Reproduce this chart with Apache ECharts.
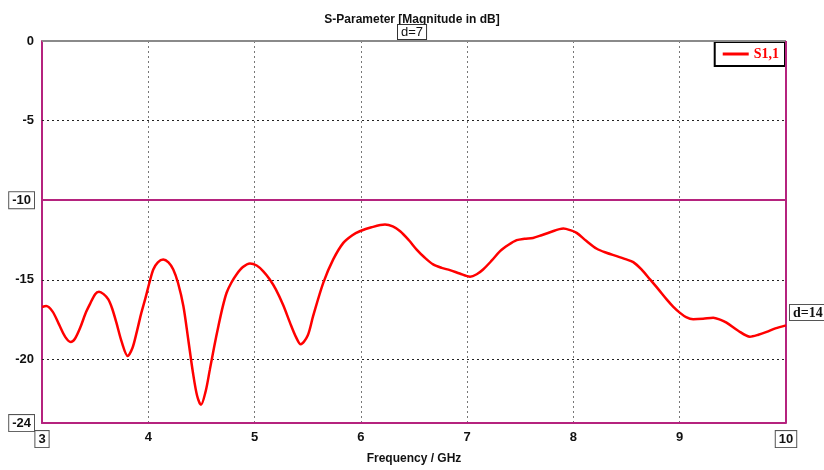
<!DOCTYPE html>
<html>
<head>
<meta charset="utf-8">
<script src="https://cdn.jsdelivr.net/npm/echarts@6/dist/echarts.min.js"></script>
<style>html,body{margin:0;padding:0;background:#fff}#c{width:824px;height:470px}</style>
</head>
<body>
<div id="c"></div>
<script>
const titleText = 'S-Parameter [Magnitude in dB]';
const xAxisName = 'Frequency / GHz';
const seriesName = 'S1,1';
const freq = [3.0, 3.04, 3.1, 3.16, 3.22, 3.27, 3.31, 3.36, 3.41, 3.45, 3.5, 3.536, 3.58, 3.624, 3.66, 3.7, 3.75, 3.806, 3.85, 3.89, 3.93, 3.97, 4.01, 4.047, 4.09, 4.14, 4.19, 4.235, 4.28, 4.33, 4.375, 4.42, 4.46, 4.496, 4.54, 4.58, 4.62, 4.66, 4.7, 4.737, 4.78, 4.83, 4.89, 4.957, 5.02, 5.08, 5.14, 5.2, 5.27, 5.333, 5.39, 5.434, 5.5, 5.55, 5.647, 5.74, 5.835, 5.92, 5.99, 6.1, 6.227, 6.3, 6.37, 6.45, 6.525, 6.6, 6.68, 6.76, 6.838, 6.93, 7.027, 7.09, 7.15, 7.23, 7.31, 7.39, 7.466, 7.54, 7.62, 7.7, 7.78, 7.905, 7.97, 8.03, 8.12, 8.22, 8.31, 8.407, 8.49, 8.563, 8.64, 8.72, 8.8, 8.877, 8.94, 9.0, 9.06, 9.127, 9.22, 9.315, 9.38, 9.44, 9.55, 9.66, 9.74, 9.818, 9.9, 10.0];
const s11 = [-16.71, -16.65, -17.0, -17.8, -18.6, -18.9, -18.7, -18.0, -17.1, -16.54, -15.9, -15.75, -15.9, -16.23, -16.8, -17.69, -18.9, -19.78, -19.3, -18.32, -17.2, -16.23, -15.2, -14.35, -13.9, -13.72, -13.9, -14.35, -15.2, -16.65, -18.7, -20.82, -22.3, -22.85, -22.0, -20.61, -19.2, -17.9, -16.7, -15.81, -15.2, -14.66, -14.2, -13.97, -14.1, -14.45, -14.95, -15.6, -16.6, -17.69, -18.6, -19.05, -18.5, -17.3, -15.18, -13.72, -12.68, -12.2, -11.95, -11.7, -11.53, -11.65, -11.95, -12.5, -13.1, -13.6, -14.03, -14.25, -14.39, -14.6, -14.8, -14.65, -14.35, -13.8, -13.2, -12.8, -12.51, -12.42, -12.37, -12.2, -12.01, -11.78, -11.88, -12.05, -12.55, -13.05, -13.3, -13.51, -13.7, -13.89, -14.35, -14.97, -15.6, -16.23, -16.7, -17.06, -17.35, -17.48, -17.45, -17.38, -17.5, -17.69, -18.2, -18.57, -18.45, -18.27, -18.05, -17.86];
const yGridValues = [-5, -15, -20];
const yLabelValues = [0, -5, -10, -15, -20, -24];
const yBoxedValues = [-10, -24];
const xBoxedValues = [3, 10];
const markerY = -10;
const markerLabelTop = 'd=7';
const markerLabelRight = 'd=14';

const MAG = '#b5237e';
const chart = echarts.init(document.getElementById('c'));
chart.setOption({
  animation: false,
  backgroundColor: '#fff',
  title: {
    text: titleText, left: 'center', top: 9,
    textStyle: {fontFamily: 'Liberation Sans', fontSize: 12, fontWeight: 'bold', color: '#111'}
  },
  legend: {
    right: 39, top: 42, orient: 'vertical',
    backgroundColor: '#fff', borderColor: '#000', borderWidth: 2, padding: [5, 6, 5, 8],
    itemWidth: 26, itemHeight: 3, itemGap: 0,
    icon: 'rect',
    textStyle: {fontFamily: 'Liberation Serif', fontWeight: 'bold', fontSize: 14, color: '#ff0000'},
    data: [{name: seriesName}]
  },
  grid: {left: 42, right: 38, top: 41, bottom: 46, show: false},
  xAxis: {
    type: 'value', min: 3, max: 10, interval: 1,
    name: xAxisName, nameLocation: 'middle', nameGap: 29,
    nameTextStyle: {fontFamily: 'Liberation Sans', fontWeight: 'bold', fontSize: 12, color: '#111'},
    axisLine: {show: true, onZero: false, lineStyle: {color: MAG, width: 2}},
    axisTick: {show: false},
    axisLabel: {
      margin: 8,
      fontFamily: 'Liberation Sans', fontWeight: 'bold', fontSize: 13, color: '#111',
      formatter: v => xBoxedValues.includes(v) ? '{b|' + v + '}' : String(v),
      rich: {b: {fontFamily: 'Liberation Sans', fontWeight: 'bold', fontSize: 13, color: '#111',
        borderColor: '#555', borderWidth: 1, padding: [2, 3, 1, 3], backgroundColor: '#fff'}}
    },
    splitLine: {show: true, lineStyle: {color: '#777', type: [2, 3], width: 1}}
  },
  yAxis: {
    type: 'value', min: -24, max: 0, interval: 1,
    axisLine: {show: true, onZero: false, lineStyle: {color: MAG, width: 2}},
    axisTick: {show: false},
    splitLine: {show: false},
    axisLabel: {
      margin: 8,
      fontFamily: 'Liberation Sans', fontWeight: 'bold', fontSize: 13, color: '#111',
      formatter: v => yBoxedValues.includes(v) ? '{b|' + v + '}' : (yLabelValues.includes(v) ? String(v) : ''),
      rich: {b: {fontFamily: 'Liberation Sans', fontWeight: 'bold', fontSize: 13, color: '#111',
        borderColor: '#555', borderWidth: 1, padding: [2, 3, 1, 3], backgroundColor: '#fff'}}
    }
  },
  series: [{
    name: seriesName, type: 'line', smooth: 0.3, symbol: 'none',
    lineStyle: {color: '#ff0000', width: 2.5},
    itemStyle: {color: '#ff0000'},
    data: freq.map((f, i) => [f, s11[i]]),
    z: 5,
    markLine: {
      silent: true, symbol: 'none', label: {show: false},
      data: [
        ...yGridValues.map(v => ({yAxis: v, lineStyle: {color: '#222', type: [2, 3], width: 1}})),
        {yAxis: markerY, lineStyle: {color: MAG, type: 'solid', width: 2}},
        {yAxis: 0, lineStyle: {color: '#8a8a8a', type: 'solid', width: 2}},
        {xAxis: 10, lineStyle: {color: MAG, type: 'solid', width: 2}}
      ]
    }
  }],
  graphic: [
    {type: 'text', left: 397, top: 24, z: 10,
      style: {text: markerLabelTop, fontFamily: 'Liberation Sans', fontSize: 13, fill: '#111',
        backgroundColor: '#fff', borderColor: '#333', borderWidth: 1, padding: [1, 3, 0, 3]}},
    {type: 'text', left: 789, top: 304, z: 10,
      style: {text: markerLabelRight, fontFamily: 'Liberation Serif', fontWeight: 'bold', fontSize: 14, fill: '#111',
        backgroundColor: '#fff', borderColor: '#555', borderWidth: 1, padding: [1, 3, 0, 3]}}
  ]
});
</script>
</body>
</html>
